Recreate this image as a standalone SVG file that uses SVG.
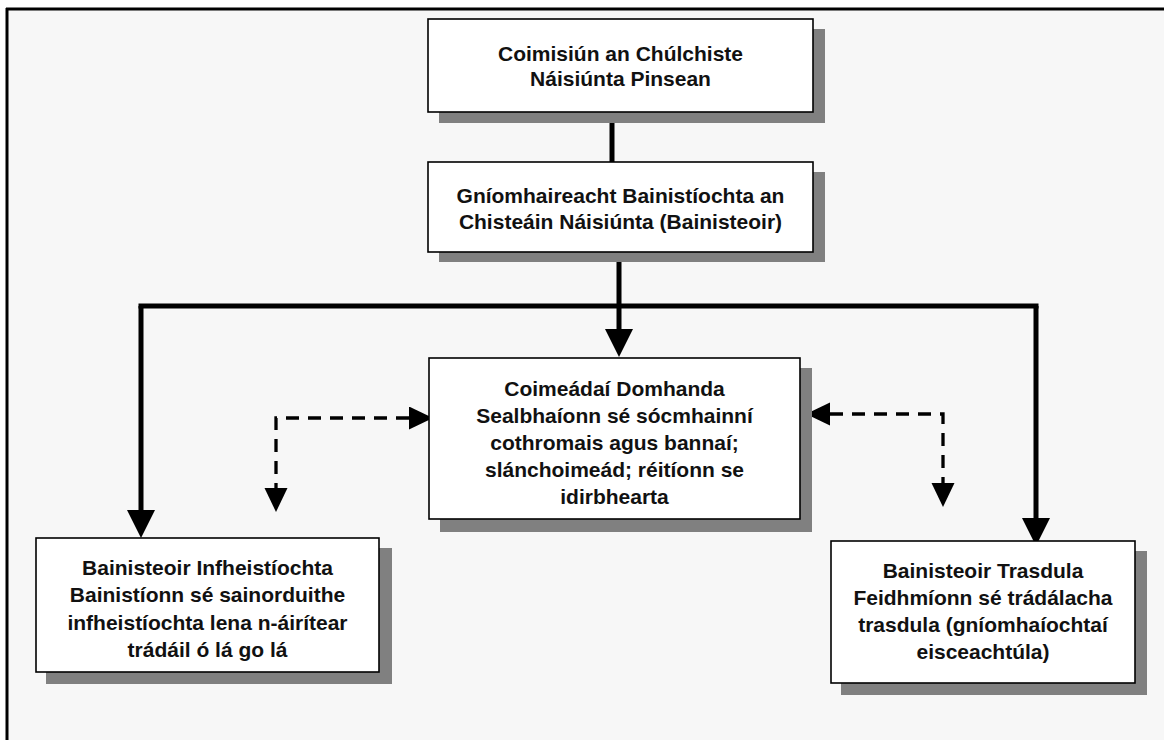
<svg xmlns="http://www.w3.org/2000/svg" width="1165" height="740" viewBox="0 0 1165 740">
<style>
.box{fill:#fff;stroke:#000;stroke-width:1.6}
.sh{fill:#808080}
.t{font-family:"Liberation Sans",Arial,sans-serif;font-weight:bold;font-size:21px;fill:#111;text-anchor:middle}
.solid{fill:none;stroke:#000;stroke-width:5}
.dash{fill:none;stroke:#000;stroke-width:3.3;stroke-dasharray:13 9}
</style>
<defs>
<marker id="ah" markerUnits="userSpaceOnUse" markerWidth="28" markerHeight="28" refX="0" refY="14" orient="auto"><path d="M0,0 L28,14 L0,28 z" fill="#000"/></marker>
<marker id="dh" markerUnits="userSpaceOnUse" markerWidth="24" markerHeight="24" refX="0" refY="11.5" orient="auto-start-reverse"><path d="M0,0 L24,11.5 L0,23 z" fill="#000"/></marker>
</defs>
<rect x="0" y="0" width="1165" height="740" fill="#fff"/>
<rect x="7" y="9" width="1157" height="731" fill="#f7f7f7"/>
<path d="M6,9 H1164 M7,8 V740" stroke="#000" stroke-width="3" fill="none"/>
<g id="connectors">
<path class="solid" d="M612,112 V162"/>
<path class="solid" d="M619,251 V306 M138.5,306 H1038.5"/>
<path class="solid" d="M619,306 V329" marker-end="url(#ah)"/>
<path class="solid" d="M141,306 V510" marker-end="url(#ah)"/>
<path class="solid" d="M1036,306 V518" marker-end="url(#ah)"/>
<path class="dash" d="M409,418 H276 V488" marker-start="url(#dh)" marker-end="url(#dh)"/>
<path class="dash" d="M830,414 H943 V483" marker-start="url(#dh)" marker-end="url(#dh)"/>
</g>
<g id="n1">
<rect class="sh" x="439" y="29" width="386" height="94"/>
<rect class="box" x="428" y="19" width="385" height="93"/>
<text class="t" x="620.5" y="61">Coimisiún an Chúlchiste</text>
<text class="t" x="620.5" y="86">Náisiúnta Pinsean</text>
</g>
<g id="n2">
<rect class="sh" x="439" y="172" width="386" height="90"/>
<rect class="box" x="428" y="162" width="385" height="90"/>
<text class="t" x="620.5" y="203">Gníomhaireacht Bainistíochta an</text>
<text class="t" x="620.5" y="229">Chisteáin Náisiúnta (Bainisteoir)</text>
</g>
<g id="n3">
<rect class="sh" x="440" y="368" width="372" height="164"/>
<rect class="box" x="429" y="358" width="371" height="161"/>
<text class="t" x="614.5" y="396">Coimeádaí Domhanda</text>
<text class="t" x="614.5" y="423">Sealbhaíonn sé sócmhainní</text>
<text class="t" x="614.5" y="450">cothromais agus bannaí;</text>
<text class="t" x="614.5" y="477">slánchoimeád; réitíonn se</text>
<text class="t" x="614.5" y="504">idirbhearta</text>
</g>
<g id="n4">
<rect class="sh" x="46" y="548" width="346" height="136"/>
<rect class="box" x="36" y="538" width="343" height="134"/>
<text class="t" x="207.5" y="575">Bainisteoir Infheistíochta</text>
<text class="t" x="207.5" y="602">Bainistíonn sé sainorduithe</text>
<text class="t" x="207.5" y="630">infheistíochta lena n-áirítear</text>
<text class="t" x="207.5" y="657">trádáil ó lá go lá</text>
</g>
<g id="n5">
<rect class="sh" x="841" y="551" width="306" height="144"/>
<rect class="box" x="831" y="541" width="304" height="142"/>
<text class="t" x="983" y="578">Bainisteoir Trasdula</text>
<text class="t" x="983" y="605">Feidhmíonn sé trádálacha</text>
<text class="t" x="983" y="632">trasdula (gníomhaíochtaí</text>
<text class="t" x="983" y="659">eisceachtúla)</text>
</g>
</svg>
